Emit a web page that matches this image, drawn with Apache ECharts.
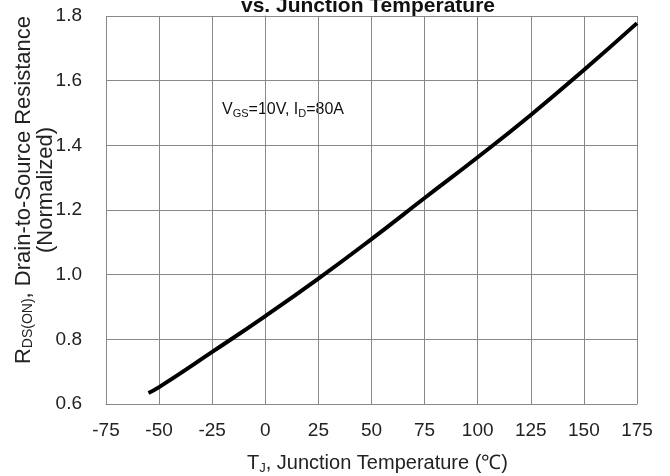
<!DOCTYPE html>
<html><head><meta charset="utf-8">
<script src="https://cdn.jsdelivr.net/npm/echarts@6/dist/echarts.min.js"></script>
<style>html,body{margin:0;padding:0;background:#fff}#c{width:670px;height:476px}</style>
</head><body><div id="c"></div>
<script>
const temps = [-55, -50, -25, 0, 25, 50, 75, 100, 125, 150, 175];
const rdsNorm = [0.634, 0.652, 0.761, 0.872, 0.988, 1.110, 1.237, 1.363, 1.494, 1.633, 1.778];
const xTicks = {min: -75, max: 175, interval: 25};
const yTicks = {min: 0.6, max: 1.8, interval: 0.2};

const font = '"Liberation Sans", Arial, sans-serif';
const chart = echarts.init(document.getElementById('c'));
chart.setOption({
  animation: false,
  title: {
    text: 'vs. Junction Temperature',
    left: 363, top: -9, textAlign: 'center',
    textStyle: {fontFamily: font, fontSize: 21, fontWeight: 'bold', color: '#111'}
  },
  grid: {left: 106, right: 33, top: 16, bottom: 72, containLabel: false, outerBoundsMode: 'none'},
  xAxis: {
    type: 'value', min: xTicks.min, max: xTicks.max, interval: xTicks.interval,
    name: '{r|T}{s|J}{r|, Junction Temperature (℃)}',
    nameLocation: 'middle', nameGap: 48, nameMoveOverlap: false,
    nameTextStyle: {padding: [0, 0, 0, 12], rich: {
      r: {fontFamily: font, fontSize: 20, color: '#222'},
      s: {fontFamily: font, fontSize: 13, color: '#222', verticalAlign: 'bottom', padding: [10, 0, 0, 0]}
    }},
    axisLine: {show: true, lineStyle: {color: '#888', width: 1}},
    axisTick: {show: false},
    axisLabel: {fontFamily: font, fontSize: 19, color: '#222', margin: 17},
    splitLine: {show: true, lineStyle: {color: '#888', width: 1}}
  },
  yAxis: {
    type: 'value', min: yTicks.min, max: yTicks.max, interval: yTicks.interval,
    name: '{r|R}{s|DS(ON)}{r|, Drain-to-Source Resistance}\n{r|(Normalized)}',
    nameLocation: 'middle', nameGap: 49, nameMoveOverlap: false,
    nameTextStyle: {align: 'center', lineHeight: 22, padding: [0, 0, 0, 40], rich: {
      r: {fontFamily: font, fontSize: 22, color: '#222', lineHeight: 22},
      s: {fontFamily: font, fontSize: 14, color: '#222', verticalAlign: 'bottom', lineHeight: 22, padding: [12, 0, 0, 0]}
    }},
    axisLine: {show: true, lineStyle: {color: '#888', width: 1}},
    axisTick: {show: false},
    axisLabel: {fontFamily: font, fontSize: 19, color: '#222', margin: 24,
      formatter: v => v.toFixed(1)},
    splitLine: {show: true, lineStyle: {color: '#888', width: 1}}
  },
  graphic: [{
    type: 'text', left: 222, top: 102,
    style: {
      text: '{r|V}{s|GS}{r|=10V, I}{s|D}{r|=80A}',
      rich: {
        r: {fontFamily: font, fontSize: 16, fill: '#111'},
        s: {fontFamily: font, fontSize: 11, fill: '#111', verticalAlign: 'bottom', padding: [8, 0, 0, 0]}
      }
    }
  }],
  series: [{
    type: 'line', smooth: true, symbol: 'none',
    data: temps.map((t, i) => [t, rdsNorm[i]]),
    lineStyle: {color: '#000', width: 4}
  }]
});
</script></body></html>
